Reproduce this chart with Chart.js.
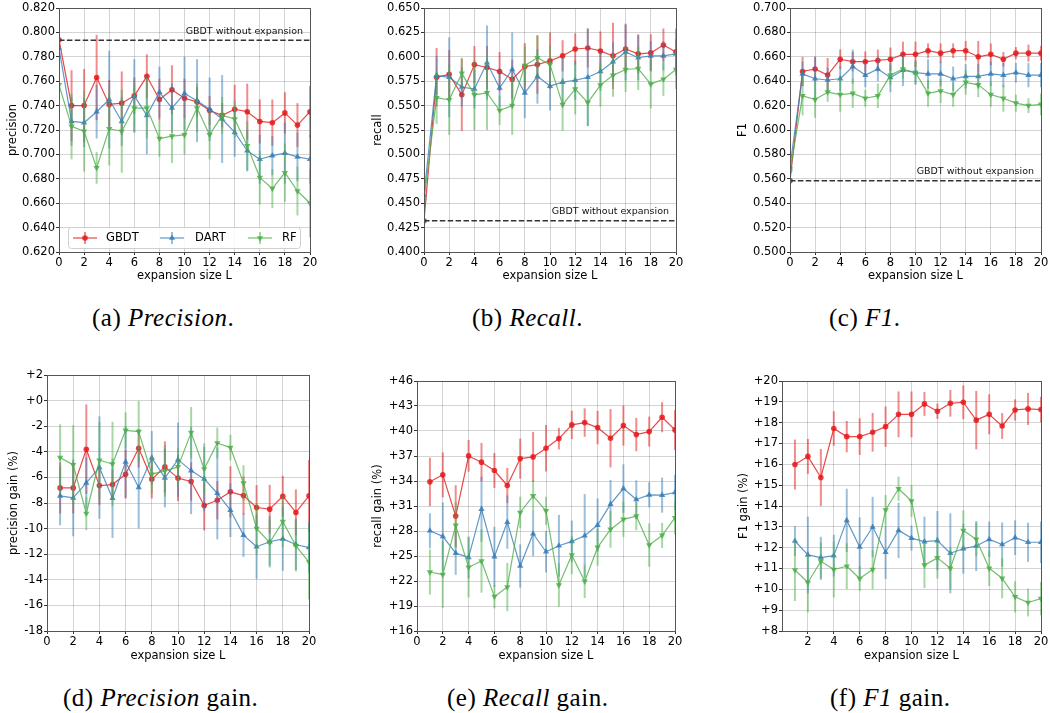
<!DOCTYPE html>
<html><head><meta charset="utf-8">
<script src="https://cdn.jsdelivr.net/npm/chart.js@4.4.1/dist/chart.umd.min.js"></script>
<style>
html,body{margin:0;padding:0;background:#fff;}
body{width:1050px;height:713px;position:relative;overflow:hidden;}
canvas{position:absolute;}
.cap{position:absolute;font-family:"Liberation Serif","Times New Roman",serif;font-size:25px;letter-spacing:0.5px;color:#000;white-space:nowrap;line-height:1;transform:translateY(-50%);}
.cap i{font-style:italic;}
</style></head><body>
<div class="cap" style="left:92px;top:317px">(a) <i>Precision</i>.</div>
<div class="cap" style="left:472px;top:317px">(b) <i>Recall</i>.</div>
<div class="cap" style="left:829px;top:317px">(c) <i>F1</i>.</div>
<div class="cap" style="left:63px;top:697px">(d) <i>Precision</i> gain.</div>
<div class="cap" style="left:447px;top:697px">(e) <i>Recall</i> gain.</div>
<div class="cap" style="left:830px;top:697px">(f) <i>F1</i> gain.</div>
<script>
// ---------- DATA ----------
const xFull = [0,1,2,3,4,5,6,7,8,9,10,11,12,13,14,15,16,17,18,19,20];
const xGain = [1,2,3,4,5,6,7,8,9,10,11,12,13,14,15,16,17,18,19,20];
const xTicks = [0,2,4,6,8,10,12,14,16,18,20];
const xTicksF1Gain = [2,4,6,8,10,12,14,16,18,20];
const seriesNames = ['GBDT','DART','RF'];
const baselineLabel = 'GBDT without expansion';

const precTicks = [0.62,0.64,0.66,0.68,0.70,0.72,0.74,0.76,0.78,0.80,0.82];
const recTicks = [0.400,0.425,0.450,0.475,0.500,0.525,0.550,0.575,0.600,0.625,0.650];
const f1Ticks = [0.50,0.52,0.54,0.56,0.58,0.60,0.62,0.64,0.66,0.68,0.70];
const precGainTicks = [-18,-16,-14,-12,-10,-8,-6,-4,-2,0,2];
const recGainTicks = [16,19,22,25,28,31,34,37,40,43,46];
const f1GainTicks = [8,9,10,11,12,13,14,15,16,17,18,19,20];

const precBase = 0.7935;
const recBase = 0.432;
const f1Base = 0.5585;

const precGBDT = [0.794,0.740,0.740,0.763,0.741,0.742,0.748,0.764,0.745,0.753,0.746,0.743,0.736,0.732,0.737,0.735,0.727,0.726,0.734,0.724,0.735];
const precGBDTErr = [0.004,0.029,0.030,0.035,0.020,0.026,0.015,0.018,0.017,0.020,0.016,0.012,0.012,0.010,0.020,0.023,0.018,0.019,0.017,0.018,0.021];
const precDART = [0.787,0.727,0.726,0.735,0.745,0.727,0.748,0.732,0.751,0.738,0.750,0.744,0.737,0.729,0.718,0.703,0.696,0.699,0.701,0.698,0.696];
const precDARTErr = [0.006,0.020,0.020,0.022,0.040,0.020,0.030,0.032,0.021,0.020,0.030,0.034,0.026,0.036,0.020,0.017,0.020,0.016,0.025,0.020,0.020];
const precRF = [0.757,0.723,0.719,0.689,0.721,0.719,0.738,0.738,0.713,0.715,0.716,0.738,0.716,0.732,0.729,0.707,0.681,0.672,0.685,0.670,0.660];
const precRFErr = [0.006,0.027,0.033,0.013,0.030,0.034,0.020,0.025,0.015,0.022,0.016,0.020,0.020,0.015,0.015,0.020,0.022,0.016,0.024,0.020,0.028];

const recGBDT = [0.432,0.579,0.582,0.561,0.592,0.589,0.585,0.577,0.590,0.592,0.596,0.601,0.608,0.609,0.606,0.601,0.608,0.603,0.604,0.612,0.605];
const recGBDTErr = [0.040,0.030,0.025,0.037,0.019,0.022,0.020,0.020,0.024,0.030,0.029,0.016,0.016,0.020,0.020,0.034,0.025,0.020,0.019,0.017,0.024];
const recDART = [0.458,0.581,0.579,0.569,0.567,0.594,0.568,0.587,0.563,0.580,0.570,0.574,0.576,0.579,0.585,0.595,0.605,0.599,0.601,0.601,0.603];
const recDARTErr = [0.030,0.020,0.041,0.020,0.020,0.038,0.020,0.038,0.026,0.028,0.025,0.025,0.020,0.050,0.020,0.020,0.029,0.023,0.015,0.015,0.015];
const recRF = [0.453,0.558,0.556,0.583,0.561,0.563,0.545,0.550,0.591,0.599,0.592,0.551,0.567,0.553,0.571,0.581,0.587,0.588,0.572,0.577,0.587];
const recRFErr = [0.025,0.027,0.036,0.016,0.036,0.038,0.015,0.030,0.020,0.023,0.020,0.027,0.026,0.024,0.022,0.022,0.023,0.022,0.025,0.017,0.020];

const f1GBDT = [0.5585,0.648,0.650,0.645,0.658,0.656,0.656,0.657,0.658,0.662,0.662,0.665,0.663,0.665,0.665,0.660,0.662,0.658,0.663,0.663,0.663];
const f1GBDTErr = [0.018,0.012,0.010,0.014,0.008,0.008,0.0085,0.009,0.0096,0.0104,0.0104,0.006,0.008,0.006,0.008,0.013,0.009,0.006,0.005,0.007,0.006];
const f1DART = [0.570,0.646,0.642,0.641,0.642,0.652,0.645,0.650,0.643,0.649,0.647,0.646,0.646,0.642,0.644,0.644,0.646,0.645,0.647,0.645,0.645];
const f1DARTErr = [0.015,0.010,0.018,0.010,0.010,0.014,0.010,0.010,0.012,0.013,0.010,0.012,0.010,0.010,0.010,0.010,0.010,0.010,0.008,0.010,0.010];
const f1RF = [0.566,0.628,0.625,0.631,0.629,0.630,0.626,0.628,0.645,0.650,0.647,0.630,0.632,0.629,0.639,0.637,0.629,0.626,0.622,0.620,0.621];
const f1RFErr = [0.012,0.016,0.015,0.008,0.014,0.012,0.007,0.010,0.008,0.008,0.009,0.011,0.010,0.010,0.010,0.010,0.010,0.011,0.007,0.006,0.009];

const precGainGBDT = [-6.82,-6.82,-3.80,-6.64,-6.56,-5.75,-3.72,-6.14,-5.18,-6.06,-6.32,-8.20,-7.78,-7.13,-7.42,-8.35,-8.48,-7.47,-8.74,-7.44];
const precGainGBDTErr = [2.0,2.0,3.5,1.5,1.2,1.9,1.5,1.5,2.0,1.8,1.5,1.95,1.5,2.0,1.5,1.75,1.9,1.6,1.8,2.8];
const precGainDART = [-7.44,-7.60,-6.43,-5.23,-7.63,-4.79,-6.79,-4.48,-6.04,-4.61,-5.47,-6.12,-7.24,-8.56,-10.51,-11.42,-11.03,-10.80,-11.24,-11.48];
const precGainDARTErr = [2.3,3.0,2.0,4.0,3.1,2.8,3.2,2.1,2.3,2.9,3.4,2.5,3.6,2.1,1.7,2.5,2.0,2.5,2.0,2.0];
const precGainRF = [-4.45,-5.02,-8.82,-4.66,-4.95,-2.32,-2.42,-5.75,-5.49,-5.18,-2.50,-5.34,-3.31,-3.67,-6.45,-9.99,-11.09,-9.45,-11.35,-12.62];
const precGainRFErr = [2.6,3.1,1.3,3.0,3.3,1.4,2.4,1.5,2.0,1.5,2.0,2.0,1.2,1.0,1.4,2.0,1.8,2.0,2.0,2.9];

const recGainGBDT = [33.90,34.74,29.79,37.01,36.26,35.26,33.46,36.69,36.89,37.93,39.09,40.73,41.01,40.41,39.13,40.65,39.57,39.93,41.65,40.13];
const recGainGBDTErr = [2.9,2.7,3.7,1.9,2.3,2.1,2.1,2.4,3.0,2.8,1.3,1.7,1.7,2.0,3.5,2.4,2.0,1.8,1.8,2.4];
const recGainDART = [28.03,27.35,25.35,24.83,30.62,24.91,29.07,23.80,27.67,25.51,26.23,26.75,27.43,28.71,31.22,33.10,31.78,32.34,32.30,32.62];
const recGainDARTErr = [2.1,4.1,2.6,2.5,3.9,3.6,3.2,2.6,2.7,2.5,3.7,2.5,5.0,3.2,2.9,2.9,2.3,1.5,2.1,2.1];
const recGainRF = [23.08,22.76,28.67,23.64,24.40,20.12,21.28,30.22,32.22,30.42,21.52,25.11,21.96,26.03,28.19,29.39,29.79,26.31,27.47,29.59];
const recGainRFErr = [2.7,4.0,2.8,3.6,3.8,1.4,2.9,1.9,1.9,1.7,2.6,2.3,2.0,2.2,2.2,2.1,1.7,2.6,1.5,2.0];

const f1GainGBDT = [15.99,16.38,15.37,17.72,17.33,17.33,17.54,17.81,18.40,18.40,18.90,18.55,18.93,18.98,18.12,18.40,17.84,18.61,18.66,18.63];
const f1GainGBDTErr = [1.2,0.84,1.37,0.83,0.75,0.88,0.93,0.97,1.1,1.1,0.57,0.37,0.64,0.81,1.4,0.96,0.62,0.51,0.77,0.61];
const f1GainDART = [12.32,11.65,11.52,11.62,13.31,12.03,12.99,11.78,12.83,12.46,12.29,12.34,11.73,11.95,12.08,12.40,12.15,12.48,12.26,12.26];
const f1GainDARTErr = [0.72,1.84,1.0,1.0,1.52,1.42,1.45,1.28,1.33,0.6,1.2,1.42,1.92,1.2,1.2,0.85,1.06,0.83,0.94,1.0];
const f1GainRF = [10.93,10.33,11.35,10.95,11.11,10.52,10.95,13.81,14.83,14.24,11.16,11.51,11.01,12.82,12.40,11.01,10.53,9.64,9.37,9.56];
const f1GainRFErr = [1.49,1.44,0.9,1.34,1.1,0.6,0.94,0.72,0.58,0.77,1.1,1.0,1.0,0.97,0.8,0.85,0.96,0.75,0.67,0.8];

// ---------- STYLE ----------
const COLORS = [[228,26,28],[55,126,184],[77,175,74]];
const STYLES = ['circle','triangleUp','triangleDown'];
const FONT = 'DejaVu Sans';
function rgba(c,a){return `rgba(${c[0]},${c[1]},${c[2]},${a})`;}
const fmtFixed = v => v.toFixed(3);
const fmtGain = v => (v >= 0 ? '+' + v : '-' + Math.abs(v));

Chart.defaults.font.family = FONT;
Chart.defaults.font.size = 11.5;
Chart.defaults.color = '#000';

function drawMarker(ctx, style, x, y, r) {
  ctx.beginPath();
  if (style === 'circle') {
    ctx.arc(x, y, r, 0, Math.PI * 2);
  } else {
    const s = style === 'triangleUp' ? -1 : 1;
    const R = r * 1.25;
    ctx.moveTo(x, y + s * R);
    ctx.lineTo(x + R * 0.866, y - s * R * 0.5);
    ctx.lineTo(x - R * 0.866, y - s * R * 0.5);
    ctx.closePath();
  }
  ctx.fill();
}

const seriesPlugin = {
  id: 'seriesDraw',
  afterDatasetsDraw(chart) {
    const ctx = chart.ctx, a = chart.chartArea;
    const xs = chart.scales.x, ys = chart.scales.y;
    const opts = chart.options.plugins.seriesDraw;
    ctx.save();
    ctx.beginPath(); ctx.rect(a.left, a.top, a.right - a.left, a.bottom - a.top); ctx.clip();
    opts.series.forEach((s, k) => {
      const col = COLORS[k];
      // error bars
      ctx.strokeStyle = rgba(col, 0.5); ctx.lineWidth = 2;
      s.x.forEach((xv, i) => {
        const px = xs.getPixelForValue(xv);
        ctx.beginPath();
        ctx.moveTo(px, ys.getPixelForValue(s.y[i] - s.e[i]));
        ctx.lineTo(px, ys.getPixelForValue(s.y[i] + s.e[i]));
        ctx.stroke();
      });
      // line
      ctx.strokeStyle = rgba(col, 0.8); ctx.lineWidth = 1.2; ctx.lineJoin = 'round';
      ctx.beginPath();
      s.x.forEach((xv, i) => {
        const px = xs.getPixelForValue(xv), py = ys.getPixelForValue(s.y[i]);
        if (i === 0) ctx.moveTo(px, py); else ctx.lineTo(px, py);
      });
      ctx.stroke();
      // markers
      ctx.fillStyle = rgba(col, 0.85);
      s.x.forEach((xv, i) => {
        drawMarker(ctx, STYLES[k], xs.getPixelForValue(xv), ys.getPixelForValue(s.y[i]), STYLES[k] === 'circle' ? 2.8 : 2.9);
      });
    });
    // baseline
    if (opts.base !== null) {
      const py = ys.getPixelForValue(opts.base);
      ctx.strokeStyle = '#333'; ctx.lineWidth = 1.5; ctx.setLineDash([5.5, 2.4]);
      ctx.beginPath(); ctx.moveTo(a.left, py); ctx.lineTo(a.right, py); ctx.stroke();
      ctx.setLineDash([]);
    }
    ctx.restore();
    // baseline label
    if (opts.base !== null) {
      const py = ys.getPixelForValue(opts.base);
      ctx.save();
      ctx.font = `9.5px "${FONT}"`; ctx.fillStyle = '#111';
      ctx.textAlign = 'right'; ctx.textBaseline = 'middle';
      ctx.fillText(baselineLabel, a.right - 7, py - 9);
      ctx.restore();
    }
    // spines
    ctx.save();
    ctx.strokeStyle = '#555'; ctx.lineWidth = 1;
    ctx.strokeRect(Math.round(a.left) + 0.5, Math.round(a.top) + 0.5, Math.round(a.right - a.left) - 1 + 1, Math.round(a.bottom - a.top));
    ctx.restore();
    // legend
    if (opts.legend) {
      const bx = a.left + 9, by = a.bottom - 25, bw = 232, bh = 21;
      ctx.save();
      ctx.fillStyle = 'rgba(255,255,255,0.85)'; ctx.strokeStyle = '#cfcfcf'; ctx.lineWidth = 1;
      ctx.beginPath();
      if (ctx.roundRect) ctx.roundRect(bx + 0.5, by + 0.5, bw, bh, 3); else ctx.rect(bx + 0.5, by + 0.5, bw, bh);
      ctx.fill(); ctx.stroke();
      const handleX = [5, 92, 180], textX = [38, 127, 214];
      const cy = by + bh / 2 + 0.5;
      seriesNames.forEach((n, k) => {
        const col = COLORS[k];
        const x0 = bx + handleX[k], x1 = x0 + 24, xm = (x0 + x1) / 2;
        ctx.strokeStyle = rgba(col, 0.5); ctx.lineWidth = 2;
        ctx.beginPath(); ctx.moveTo(xm, cy - 6); ctx.lineTo(xm, cy + 6); ctx.stroke();
        ctx.strokeStyle = rgba(col, 0.8); ctx.lineWidth = 1.2;
        ctx.beginPath(); ctx.moveTo(x0, cy); ctx.lineTo(x1, cy); ctx.stroke();
        ctx.fillStyle = rgba(col, 0.85);
        drawMarker(ctx, STYLES[k], xm, cy, STYLES[k] === 'circle' ? 2.8 : 2.9);
        ctx.fillStyle = '#000'; ctx.font = `11.5px "${FONT}"`;
        ctx.textAlign = 'left'; ctx.textBaseline = 'middle';
        ctx.fillText(n, bx + textX[k], cy);
      });
      ctx.restore();
    }
  }
};

const panels = [
  {L:59, R:310, T:8, B:252, titleX:13, xH:31, yLabel:'precision', yTicks:precTicks, fmt:fmtFixed, xs:xFull, xTicks:xTicks,
   vals:[precGBDT,precGBDTErr,precDART,precDARTErr,precRF,precRFErr], base:precBase, legend:true},
  {L:424, R:676, T:8, B:252, titleX:378, xH:31, yLabel:'recall', yTicks:recTicks, fmt:fmtFixed, xs:xFull, xTicks:xTicks,
   vals:[recGBDT,recGBDTErr,recDART,recDARTErr,recRF,recRFErr], base:recBase, legend:false},
  {L:790, R:1041, T:8, B:252, titleX:743, xH:31, yLabel:'F1', yTicks:f1Ticks, fmt:fmtFixed, xs:xFull, xTicks:xTicks,
   vals:[f1GBDT,f1GBDTErr,f1DART,f1DARTErr,f1RF,f1RFErr], base:f1Base, legend:false},
  {L:47, R:309, T:375, B:631, titleX:14, xH:32, yLabel:'precision gain (%)', yTicks:precGainTicks, fmt:fmtGain, xs:xGain, xTicks:xTicks,
   vals:[precGainGBDT,precGainGBDTErr,precGainDART,precGainDARTErr,precGainRF,precGainRFErr], base:null, legend:false},
  {L:417, R:675, T:381, B:631, titleX:378, xH:32, yLabel:'recall gain (%)', yTicks:recGainTicks, fmt:fmtGain, xs:xGain, xTicks:xTicks,
   vals:[recGainGBDT,recGainGBDTErr,recGainDART,recGainDARTErr,recGainRF,recGainRFErr], base:null, legend:false},
  {L:782, R:1041, T:381, B:631, titleX:744, xH:32, yLabel:'F1 gain (%)', yTicks:f1GainTicks, fmt:fmtGain, xs:xGain, xTicks:xTicksF1Gain,
   vals:[f1GainGBDT,f1GainGBDTErr,f1GainDART,f1GainDARTErr,f1GainRF,f1GainRFErr], base:null, legend:false}
];

panels.forEach(p => {
  const cl = p.titleX - 7;
  const ct = p.T - 10;
  const cr = Math.min(1050, p.R + 11);
  const cb = p.B + p.xH + 2;
  const canvas = document.createElement('canvas');
  canvas.width = cr - cl; canvas.height = cb - ct;
  canvas.style.left = cl + 'px'; canvas.style.top = ct + 'px';
  canvas.style.width = (cr - cl) + 'px'; canvas.style.height = (cb - ct) + 'px';
  document.body.appendChild(canvas);
  const yW = p.L - cl;
  const series = [0,1,2].map(k => ({x: p.xs, y: p.vals[2*k], e: p.vals[2*k+1]}));
  // invisible datasets so the library owns the data on its scales
  const datasets = seriesNames.map((n, k) => ({
    label: n,
    data: p.xs.map((x, i) => ({x, y: p.vals[2*k][i]})),
    showLine: false, pointRadius: 0, borderWidth: 0
  }));
  new Chart(canvas, {
    type: 'scatter',
    data: {datasets},
    options: {
      responsive: false, animation: false, devicePixelRatio: 1,
      layout: {padding: {left: 0, top: 10, right: cr - p.R, bottom: 2}},
      plugins: {legend: {display: false}, tooltip: {enabled: false},
        seriesDraw: {series, base: p.base, legend: p.legend}},
      scales: {
        x: {
          type: 'linear', min: 0, max: 20,
          afterBuildTicks: s => { s.ticks = p.xTicks.map(v => ({value: v})); },
          afterFit: s => { s.height = p.xH; s.paddingLeft = 0; s.paddingRight = 0; },
          ticks: {autoSkip: false, maxRotation: 0, padding: 1, callback: v => String(v), color: '#000'},
          grid: {color: 'rgba(0,0,0,0.17)', lineWidth: 1, tickLength: 3, tickColor: '#333', drawTicks: true},
          border: {display: false},
          title: {display: true, text: 'expansion size L', padding: {top: 0, bottom: 0}, color: '#000'}
        },
        y: {
          type: 'linear', min: p.yTicks[0], max: p.yTicks[p.yTicks.length - 1],
          afterBuildTicks: s => { s.ticks = p.yTicks.map(v => ({value: v})); },
          afterFit: s => { s.width = yW; s.paddingTop = 0; s.paddingBottom = 0; },
          ticks: {autoSkip: false, padding: 1, callback: v => p.fmt(v), color: '#000'},
          grid: {color: 'rgba(0,0,0,0.17)', lineWidth: 1, tickLength: 3, tickColor: '#333', drawTicks: true},
          border: {display: false},
          title: {display: true, text: p.yLabel, padding: {top: 0, bottom: 0}, color: '#000'}
        }
      }
    },
    plugins: [seriesPlugin]
  });
});
</script>
</body></html>
